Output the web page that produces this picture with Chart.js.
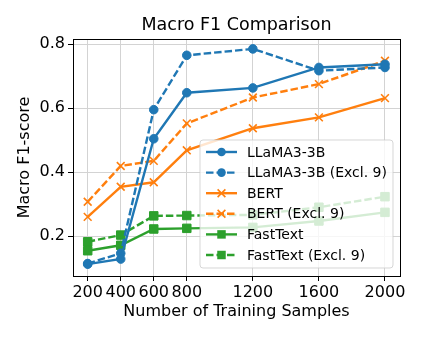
<!DOCTYPE html>
<html lang="en">
<head>
  <meta charset="UTF-8" />
  <title>Macro F1 Comparison</title>
  <style>
    html, body { margin: 0; padding: 0; background: #fff; }
    #wrap { width: 424px; height: 339px; }
  </style>
</head>
<body>
  <div id="wrap"><canvas id="grafico" width="424" height="339"></canvas></div>

  <script src="https://cdn.jsdelivr.net/npm/chart.js"></script>
  <script>
    // Data
    const samples = [200, 400, 600, 800, 1200, 1600, 2000];
    const xTicks = [200, 400, 600, 800, 1200, 1600, 2000];
    const yTicks = [0.2, 0.4, 0.6, 0.8];

    const llama = [0.112, 0.128, 0.504, 0.648, 0.663, 0.727, 0.737];
    const llamaExcl = [0.114, 0.146, 0.595, 0.765, 0.785, 0.717, 0.727];
    const bert = [0.260, 0.354, 0.368, 0.468, 0.537, 0.571, 0.631];
    const bertExcl = [0.307, 0.419, 0.435, 0.552, 0.633, 0.675, 0.748];
    const fasttext = [0.154, 0.171, 0.222, 0.224, 0.227, 0.247, 0.274];
    const fasttextExcl = [0.182, 0.203, 0.263, 0.264, 0.266, 0.290, 0.323];

    const labels = ['LLaMA3-3B', 'LLaMA3-3B (Excl. 9)', 'BERT', 'BERT (Excl. 9)', 'FastText', 'FastText (Excl. 9)'];
    const titulo = 'Macro F1 Comparison';

    const azul = '#1f77b4', laranja = '#ff7f0e', verde = '#2ca02c';
    const fonte = 'DejaVu Sans';

    function serie(label, valores, cor, estilo, raio, tracejado) {
      return {
        label: label,
        data: samples.map((x, i) => ({ x: x, y: valores[i] })),
        borderColor: cor,
        backgroundColor: cor,
        borderWidth: 2.4,
        borderDash: tracejado ? [7.5, 3] : [],
        pointStyle: estilo,
        pointRadius: raio,
        pointBorderWidth: estilo === 'crossRot' ? 1.6 : 1,
        pointBackgroundColor: cor,
        pointBorderColor: cor,
        tension: 0
      };
    }

    const datasets = [
      serie(labels[0], llama, azul, 'circle', 4.3, false),
      serie(labels[1], llamaExcl, azul, 'circle', 4.3, true),
      serie(labels[2], bert, laranja, 'crossRot', 5.5, false),
      serie(labels[3], bertExcl, laranja, 'crossRot', 5.5, true),
      serie(labels[4], fasttext, verde, 'rect', 6, false),
      serie(labels[5], fasttextExcl, verde, 'rect', 6, true)
    ];

    // Título, moldura do gráfico e legenda dentro da área
    const molduraLegenda = {
      id: 'molduraLegenda',
      afterDraw(chart) {
        const ctx = chart.ctx;
        const a = chart.chartArea;
        ctx.save();

        // título centralizado sobre a área do gráfico
        ctx.fillStyle = '#000';
        ctx.font = '17.5px "' + fonte + '"';
        ctx.textAlign = 'center';
        ctx.textBaseline = 'middle';
        ctx.fillText(titulo, (a.left + a.right) / 2, 25.5);

        // legenda
        const lx = 200, ly = 140, lw = 193, lh = 128;
        ctx.beginPath();
        ctx.roundRect(lx, ly, lw, lh, 3);
        ctx.fillStyle = 'rgba(255,255,255,0.8)';
        ctx.fill();
        ctx.strokeStyle = 'rgba(204,204,204,0.8)';
        ctx.lineWidth = 1;
        ctx.stroke();

        chart.data.datasets.forEach((ds, i) => {
          const y = 152 + i * 20.6;
          ctx.strokeStyle = ds.borderColor;
          ctx.lineWidth = ds.borderWidth;
          ctx.setLineDash(ds.borderDash);
          ctx.beginPath();
          ctx.moveTo(206, y);
          ctx.lineTo(237, y);
          ctx.stroke();
          ctx.setLineDash([]);
          desenhaPonto(ctx, ds, 221.5, y);
          ctx.fillStyle = '#000';
          ctx.font = '14px "' + fonte + '"';
          ctx.textAlign = 'left';
          ctx.textBaseline = 'middle';
          ctx.fillText(ds.label, 247, y + 1);
        });

        // moldura
        ctx.strokeStyle = '#000';
        ctx.lineWidth = 1;
        ctx.strokeRect(Math.round(a.left) + 0.5, Math.round(a.top) + 0.5,
          Math.round(a.right - a.left), Math.round(a.bottom - a.top));
        ctx.restore();
      }
    };

    function desenhaPonto(ctx, ds, x, y) {
      const r = ds.pointRadius;
      ctx.fillStyle = ds.borderColor;
      ctx.strokeStyle = ds.borderColor;
      ctx.lineWidth = ds.pointBorderWidth;
      ctx.beginPath();
      if (ds.pointStyle === 'circle') {
        ctx.arc(x, y, r, 0, Math.PI * 2);
        ctx.fill();
      } else if (ds.pointStyle === 'rect') {
        const s = r * Math.SQRT1_2;
        ctx.rect(x - s, y - s, 2 * s, 2 * s);
        ctx.fill();
      } else {
        const s = r * Math.SQRT1_2;
        ctx.moveTo(x - s, y - s); ctx.lineTo(x + s, y + s);
        ctx.moveTo(x - s, y + s); ctx.lineTo(x + s, y - s);
        ctx.stroke();
      }
    }

    new Chart(document.getElementById('grafico'), {
      type: 'line',
      data: { datasets: datasets },
      options: {
        responsive: false,
        animation: false,
        layout: { padding: { left: 0, right: 24, top: 39, bottom: 0 } },
        plugins: {
          legend: { display: false },
          tooltip: { enabled: false },
          title: { display: false }
        },
        scales: {
          x: {
            type: 'linear',
            min: 111,
            max: 2091,
            afterBuildTicks: s => { s.ticks = xTicks.map(v => ({ value: v })); },
            afterFit: s => { s.height = 63; },
            ticks: {
              autoSkip: false,
              maxRotation: 0,
              padding: 2,
              color: '#000',
              font: { family: fonte, size: 16 },
              callback: v => String(v)
            },
            grid: { color: '#d3d3d3', lineWidth: 1, tickLength: 5, tickColor: '#000' },
            border: { display: false },
            title: {
              display: true,
              text: 'Number of Training Samples',
              color: '#000',
              font: { family: fonte, size: 16 },
              padding: { top: 0, bottom: 18 }
            }
          },
          y: {
            min: 0.075,
            max: 0.816,
            afterBuildTicks: s => { s.ticks = yTicks.map(v => ({ value: v })); },
            afterFit: s => { s.width = 73; },
            ticks: {
              padding: 3,
              color: '#000',
              font: { family: fonte, size: 16 },
              callback: v => v.toFixed(1)
            },
            grid: { color: '#d3d3d3', lineWidth: 1, tickLength: 5, tickColor: '#000' },
            border: { display: false },
            title: {
              display: true,
              text: 'Macro F1-score',
              color: '#000',
              font: { family: fonte, size: 16 },
              padding: { top: 15.4, bottom: 0 }
            }
          }
        }
      },
      plugins: [molduraLegenda]
    });
  </script>
</body>
</html>
